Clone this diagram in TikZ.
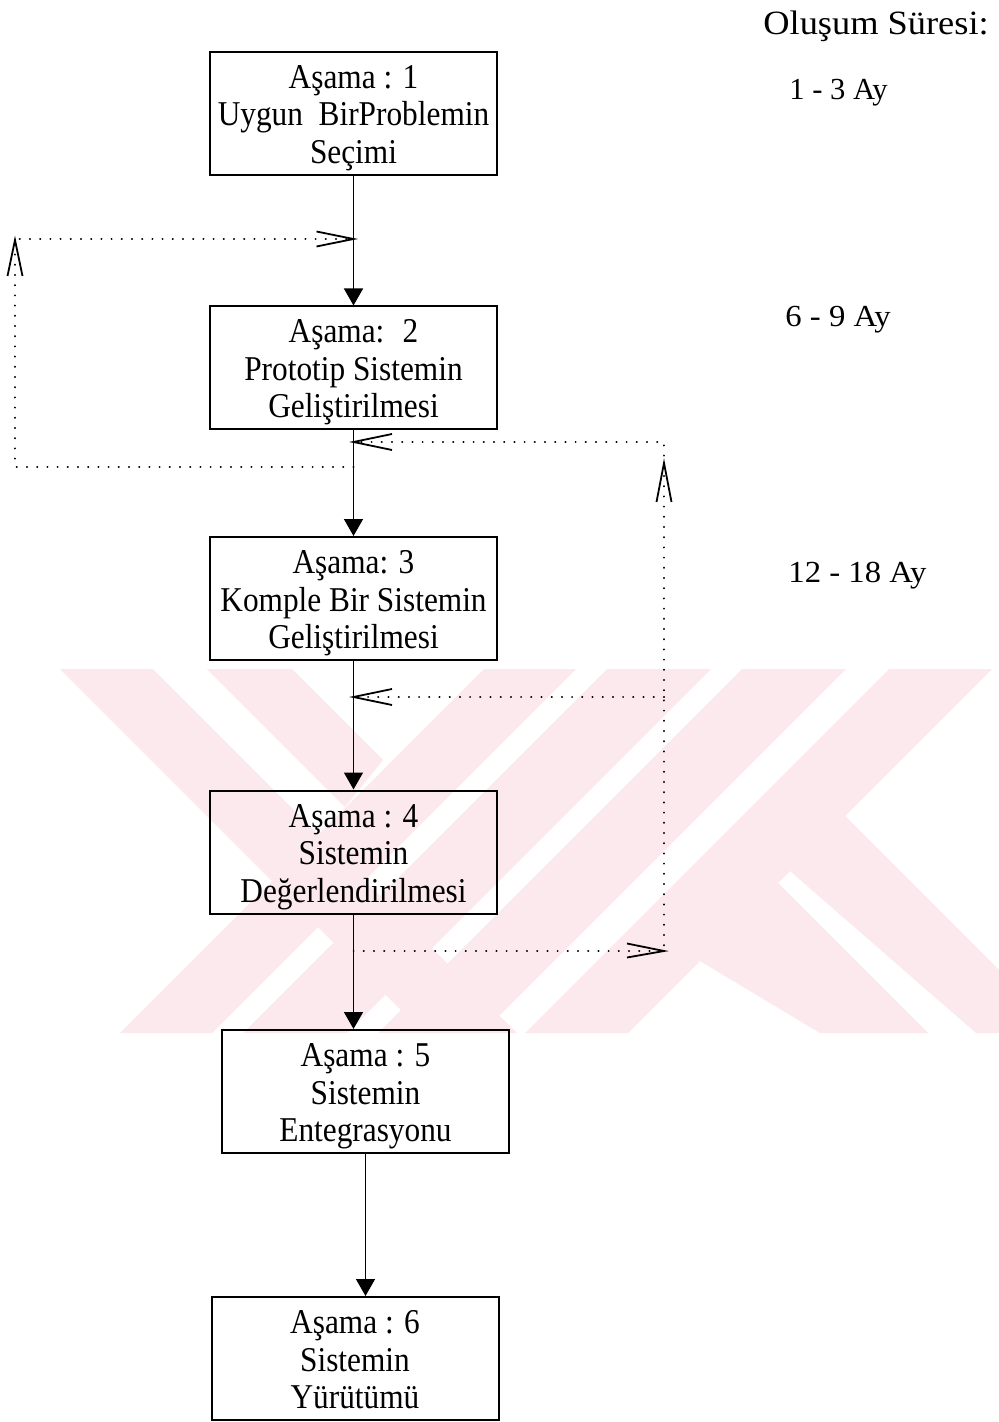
\documentclass[tikz,border=0pt]{standalone}
\usepackage{fontspec}
\setmainfont{Liberation Serif}
\newfontfamily\boxfont{Liberation Serif}[FakeStretch=0.9]
\newfontfamily\headfont{Liberation Serif}[FakeStretch=1.07]
\usetikzlibrary{arrows.meta}
\definecolor{wmpink}{RGB}{252,233,237}
\begin{document}
\begin{tikzpicture}[x=0.5pt,y=-0.5pt,
  stage/.style={draw,line width=1pt,minimum width=143.5pt,minimum height=61.5pt,
    inner sep=0pt,align=center,text height=50pt,text depth=0pt,
    font=\boxfont\fontsize{17.4}{18.75}\selectfont},
  flow/.style={line width=0.75pt,-{Triangle[width=9.5pt,length=8.5pt]}},
  feedback/.style={line width=1pt,line cap=round,dash pattern=on 0.1pt off 5pt},
  barb/.style={line width=0.9pt},
  dur/.style={anchor=base west,inner sep=0pt,font=\fontsize{15.3}{18}\selectfont}]

% page
\fill[white] (0,0) rectangle (999,1422);

% background emblem
\begin{scope}
  \clip (0,669) rectangle (999,1033);
  \fill[wmpink] (60,669) -- (153,669) -- (517,1033) -- (424,1033) -- cycle;
  \fill[wmpink] (207,669) -- (292,669) -- (383,760) -- (345,807) -- cycle;
  \fill[wmpink] (120,1033) -- (212,1033) -- (576,669) -- (484,669) -- cycle;
  \fill[wmpink] (243,1033) -- (347,1033) -- (711,669) -- (607,669) -- cycle;
  \fill[wmpink] (378,1033) -- (482,1033) -- (846,669) -- (742,669) -- cycle;
  \fill[wmpink] (525,1033) -- (628,1033) -- (992,669) -- (889,669) -- cycle;
  \fill[wmpink] (700,961) -- (778,883) -- (928,1033) -- (820,1033) -- cycle;
  \fill[wmpink] (790,871) -- (845,816) -- (1062,1033) -- (976,1033) -- cycle;
\end{scope}

% stages
\node[stage] (s1) at (353.5,113.5) {Aşama : 1\\Uygun~ BirProblemin\\Seçimi};
\node[stage] (s2) at (353.5,368)   {Aşama:~ 2\\Prototip Sistemin\\Geliştirilmesi};
\node[stage] (s3) at (353.5,598.5) {Aşama: 3\\Komple Bir Sistemin\\Geliştirilmesi};
\node[stage] (s4) at (353.5,852)   {Aşama : 4\\Sistemin\\Değerlendirilmesi};
\node[stage] (s5) at (365.5,1091.5){Aşama : 5\\Sistemin\\Entegrasyonu};
\node[stage] (s6) at (355,1358.5)  {Aşama : 6\\Sistemin\\Yürütümü};

% main flow
\draw[flow] (s1.south) -- (s2.north);
\draw[flow] (s2.south) -- (s3.north);
\draw[flow] (s3.south) -- (s4.north);
\draw[flow] (s4.south) -- (s4.south |- s5.north);
\draw[flow] (s5.south) -- (s5.south |- s6.north);

% feedback from stage 2 back to stage 1
\coordinate (fa0) at (353.5,467);
\coordinate (fa1) at (15,467);
\coordinate (fa2) at (15,239);
\coordinate (fa3) at (353.5,239);
\draw[feedback] (fa0) -- (fa1) -- (fa2) -- (fa3);
\draw[barb] ([shift={(-37,-7.5)}]fa3) -- (fa3) -- ([shift={(-37,7.5)}]fa3);
\draw[barb] ([shift={(-7.5,37)}]fa2) -- ([shift={(0,1)}]fa2) -- ([shift={(7.5,37)}]fa2);

% feedback from stages 3 and 4 back to stage 2
\coordinate (fb0) at (353.5,951);
\coordinate (fb1) at (664,951);
\coordinate (fb2) at (664,442);
\coordinate (fb3) at (353.5,442);
\coordinate (fb4) at (664,697);
\coordinate (fb5) at (353.5,697);
\draw[feedback] (fb0) -- (fb1) -- (fb2) -- (fb3);
\draw[feedback] (fb4) -- (fb5);
\draw[barb] ([shift={(-37,-7.5)}]fb1) -- (fb1) -- ([shift={(-37,6.5)}]fb1);
\draw[barb] ([shift={(38.5,-8)}]fb3) -- (fb3) -- ([shift={(38.5,8)}]fb3);
\draw[barb] ([shift={(38.5,-8)}]fb5) -- (fb5) -- ([shift={(38.5,8)}]fb5);
\coordinate (fb6) at (664,463);
\draw[barb] ([shift={(-7.5,39)}]fb6) -- (fb6) -- ([shift={(7.5,39)}]fb6);

% durations
\node[dur,font=\headfont\fontsize{17}{20}\selectfont] (hdr) at (763,35) {Oluşum Süresi:};
\node[dur] (d1) at (789,100) {1 - 3 Ay};
\node[dur,font=\headfont\fontsize{15.3}{18}\selectfont] (d2) at (785,327) {6 - 9 Ay};
\node[dur,font=\headfont\fontsize{15.3}{18}\selectfont] (d3) at (788,582) {12 - 18 Ay};
\end{tikzpicture}
\end{document}
